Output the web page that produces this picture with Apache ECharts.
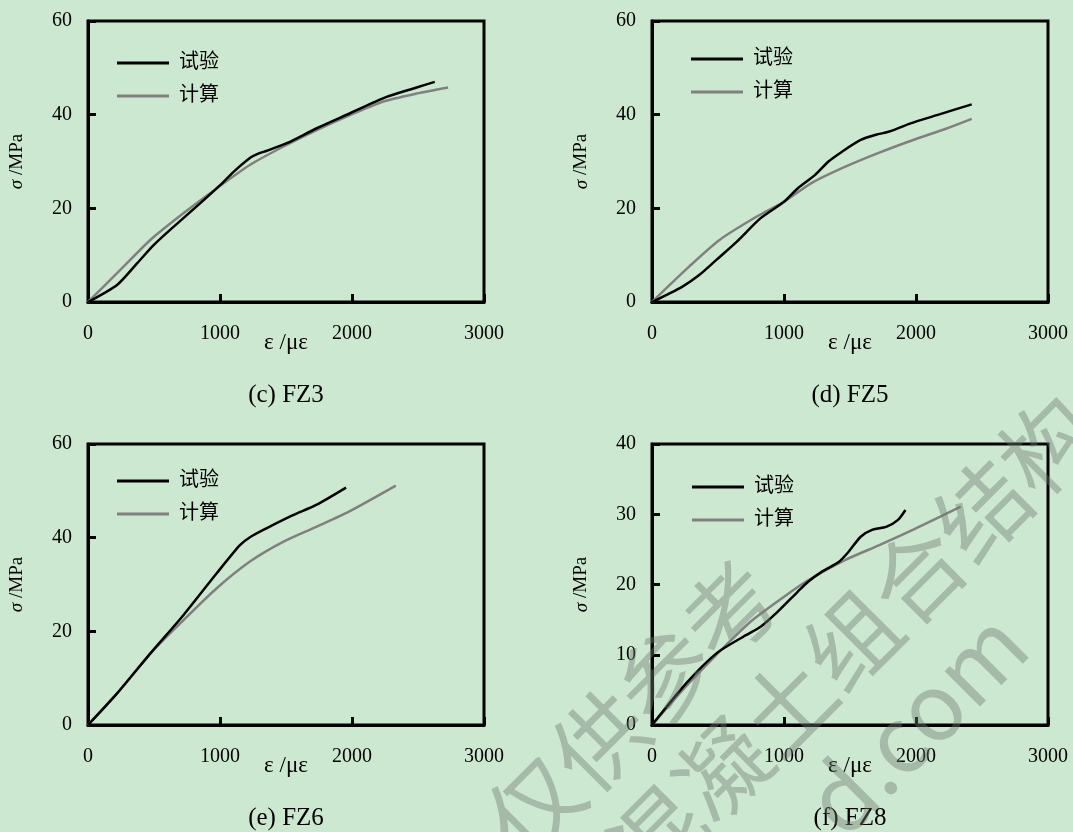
<!DOCTYPE html>
<html><head><meta charset="utf-8">
<script src="https://cdn.jsdelivr.net/npm/echarts@6/dist/echarts.min.js"></script>
<style>html,body{margin:0;padding:0;background:#cde8d0;}#c{width:1073px;height:832px;}</style>
</head><body><div id="c"></div>
<script>
// ---- data (strain in με, stress in MPa) ----
const panelTitles = ['(c) FZ3', '(d) FZ5', '(e) FZ6', '(f) FZ8'];
const legendNames = ['试验', '计算'];
const xTicks = [0, 1000, 2000, 3000];
const yMaxes = [60, 60, 60, 40];
const yIntervals = [20, 20, 20, 10];

const fz3TestX = [0, 222, 373, 499, 650, 851, 1003, 1103, 1229, 1290, 1355, 1506, 1733, 1985, 2262, 2489, 2627];
const fz3TestY = [0, 3.7, 8.3, 12.2, 16.1, 21.1, 25.0, 27.8, 30.8, 31.7, 32.3, 33.9, 37.1, 40.3, 43.8, 45.8, 47.0];
const fz3CalcX = [0, 222, 474, 725, 977, 1229, 1481, 1733, 1985, 2237, 2489, 2728];
const fz3CalcY = [0, 6.2, 13.3, 19.0, 24.3, 29.3, 33.2, 36.7, 39.9, 42.8, 44.5, 45.8];

const fz5TestX = [0, 231, 360, 488, 643, 823, 1000, 1105, 1234, 1337, 1440, 1581, 1697, 1799, 1954, 2159, 2422];
const fz5TestY = [0, 3.3, 5.8, 9.0, 12.9, 17.9, 21.4, 24.3, 27.1, 30.0, 32.1, 34.6, 35.7, 36.4, 38.1, 39.9, 42.2];
const fz5CalcX = [0, 283, 514, 797, 1000, 1208, 1465, 1722, 1979, 2237, 2422];
const fz5CalcY = [0, 7.6, 13.3, 18.3, 21.4, 25.4, 28.9, 31.9, 34.6, 37.1, 39.1];

const fz6TestX = [0, 222, 473, 724, 975, 1151, 1227, 1352, 1553, 1729, 1955];
const fz6TestY = [0, 6.8, 15.3, 23.5, 32.4, 38.4, 40.1, 42.0, 44.8, 47.0, 50.7];
const fz6CalcX = [0, 222, 473, 724, 975, 1227, 1478, 1729, 1980, 2332];
const fz6CalcY = [0, 6.8, 15.3, 22.4, 29.2, 34.9, 39.1, 42.3, 45.6, 51.1];

const fz8TestX = [0, 257, 488, 694, 823, 951, 1105, 1183, 1285, 1414, 1491, 1581, 1671, 1774, 1864, 1920];
const fz8TestY = [0, 5.9, 10.2, 12.6, 14.0, 16.1, 19.0, 20.4, 21.8, 23.2, 24.7, 26.8, 27.8, 28.2, 29.2, 30.6];
const fz8CalcX = [0, 257, 488, 746, 1003, 1183, 1465, 1722, 1979, 2339];
const fz8CalcY = [0, 5.5, 10.0, 14.7, 18.3, 20.6, 23.5, 25.6, 27.8, 31.1];

const testSets = [[fz3TestX, fz3TestY], [fz5TestX, fz5TestY], [fz6TestX, fz6TestY], [fz8TestX, fz8TestY]];
const calcSets = [[fz3CalcX, fz3CalcY], [fz5CalcX, fz5CalcY], [fz6CalcX, fz6CalcY], [fz8CalcX, fz8CalcY]];

// ---- layout ----
const SERIF = '"Liberation Serif","Times New Roman","Noto Sans CJK SC",serif';
const grids = [
  {left: 88, top: 21}, {left: 652, top: 21},
  {left: 88, top: 444}, {left: 652, top: 444}
];
const GW = 396, GH = 281;
const legendPos = [
  {left: 117, top: 53}, {left: 691, top: 49},
  {left: 117, top: 471}, {left: 692, top: 477}
];

const zip = (xs, ys) => xs.map((x, i) => [x, ys[i]]);

const option = {
  backgroundColor: '#cde8d0',
  animation: false,
  grid: grids.map(g => ({left: g.left, top: g.top, width: GW, height: GH, show: true,
    borderColor: '#000', borderWidth: 3, backgroundColor: 'transparent', containLabel: false})),
  xAxis: grids.map((g, i) => ({
    type: 'value', gridIndex: i, min: xTicks[0], max: xTicks[xTicks.length - 1], interval: 1000,
    name: 'ε /με', nameLocation: 'middle', nameGap: 29, nameMoveOverlap: false,
    nameTextStyle: {fontFamily: SERIF, fontSize: 23, color: '#000'},
    axisLine: {show: true, lineStyle: {color: '#000', width: 3}},
    axisTick: {show: true, inside: true, length: 8, lineStyle: {color: '#000', width: 3}},
    axisLabel: {show: true, margin: 22, fontFamily: SERIF, fontSize: 20, color: '#000',
      formatter: v => String(v)},
    splitLine: {show: false}
  })),
  yAxis: grids.map((g, i) => ({
    type: 'value', gridIndex: i, min: 0, max: yMaxes[i], interval: yIntervals[i],
    name: '{i|σ} /MPa', nameLocation: 'middle', nameGap: 61, nameRotate: 90, nameMoveOverlap: false,
    nameTextStyle: {fontFamily: SERIF, fontSize: 19, color: '#000',
      rich: {i: {fontFamily: SERIF, fontStyle: 'italic', fontSize: 19, color: '#000'}}},
    axisLine: {show: true, lineStyle: {color: '#000', width: 3}},
    axisTick: {show: true, inside: true, length: 8, lineStyle: {color: '#000', width: 3}},
    axisLabel: {show: true, margin: 16, fontFamily: SERIF, fontSize: 20, color: '#000'},
    splitLine: {show: false}
  })),
  legend: legendPos.map(p => ({
    data: legendNames, orient: 'vertical', left: p.left, top: p.top,
    itemWidth: 52, itemHeight: 3, itemGap: 13, icon: 'rect', padding: 0,
    textStyle: {fontFamily: SERIF, fontSize: 20, color: '#000', padding: [0, 0, 0, 5]},
    selectedMode: false
  })),
  series: [],
  graphic: []
};

for (let i = 0; i < 4; i++) {
  option.series.push({
    name: legendNames[0], type: 'line', xAxisIndex: i, yAxisIndex: i,
    data: zip(testSets[i][0], testSets[i][1]), showSymbol: false, symbol: 'none', smooth: 0.25,
    lineStyle: {color: '#000', width: 2.5}, itemStyle: {color: '#000'}, z: 3
  });
  option.series.push({
    name: legendNames[1], type: 'line', xAxisIndex: i, yAxisIndex: i,
    data: zip(calcSets[i][0], calcSets[i][1]), showSymbol: false, symbol: 'none', smooth: 0.25,
    lineStyle: {color: '#808080', width: 2.5}, itemStyle: {color: '#808080'}, z: 2
  });
  option.graphic.push({
    type: 'text', x: grids[i].left + GW / 2, y: grids[i].top + GH + 93,
    style: {text: panelTitles[i], fill: '#000', font: '25px ' + SERIF, textAlign: 'center', textVerticalAlign: 'middle'}
  });
}

// watermark (semi-transparent, rotated)
const wmFont = '92px "Noto Sans CJK SC",sans-serif';
const wmFill = 'rgba(110,122,112,0.42)';
const wm = [
  {text: '仅供参考', x: 632, y: 708},
  {text: '混凝土组合结构', x: 852, y: 640},
  {text: 'd.com', x: 915, y: 722}
];
wm.forEach(w => option.graphic.push({
  type: 'text', x: w.x, y: w.y, rotation: Math.PI / 4, z: 100,
  style: {text: w.text, fill: wmFill, font: wmFont, textAlign: 'center', textVerticalAlign: 'middle'}
}));

const chart = echarts.init(document.getElementById('c'), null, {renderer: 'canvas'});
chart.setOption(option);
</script></body></html>
